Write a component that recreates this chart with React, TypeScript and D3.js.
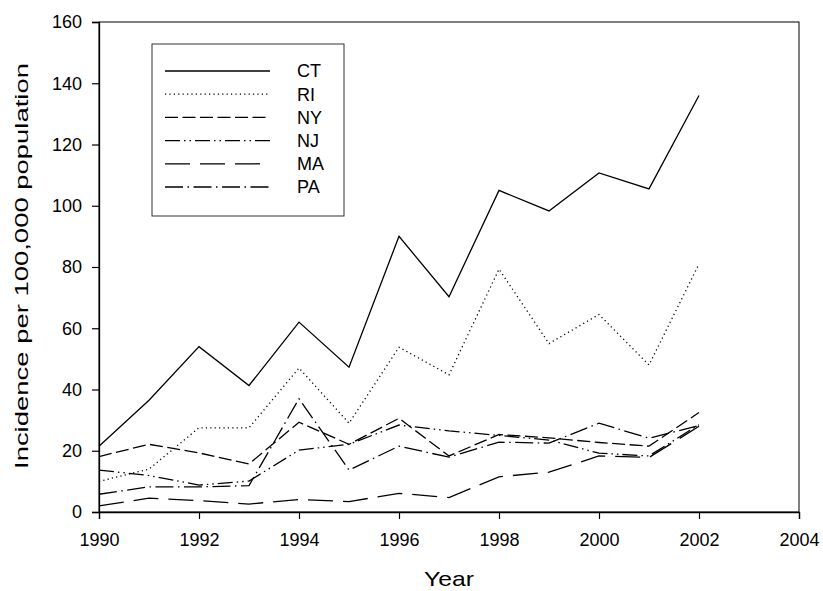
import { useEffect, useRef } from "react";
import * as d3 from "d3";

// incidence per 100,000
const years = [1990, 1991, 1992, 1993, 1994, 1995, 1996, 1997, 1998, 1999, 2000, 2001, 2002];
const ct = [21.5, 36.5, 54, 41.3, 62, 47.3, 90, 70.3, 105, 98.3, 110.7, 105.5, 136];
const ri = [10, 14, 27.5, 27.5, 47, 29, 53.8, 44.8, 79.3, 55, 64.5, 48, 81];
const ny = [18.1, 22.1, 19.3, 15.7, 29.3, 22.1, 30.6, 18.3, 25.3, 24.2, 22.7, 21.5, 32.5];
const nj = [13.7, 11.9, 8.8, 10.1, 20.2, 22.1, 28.4, 26.5, 25, 23.5, 19.2, 18.3, 28.5];
const ma = [2.0, 4.5, 3.7, 2.6, 4.1, 3.4, 6.1, 4.7, 11.5, 13, 18.3, 17.8, 28];
const pa = [5.8, 8.2, 8.2, 8.6, 37, 13.7, 21.5, 17.9, 22.8, 22.5, 29, 24.1, 28.2];

const seriesNames = ["CT", "RI", "NY", "NJ", "MA", "PA"];
const seriesValues = [ct, ri, ny, nj, ma, pa];
const dashes = ["none", "1.2 3.2", "13 4.5", "15 4 1.5 4 1.5 4", "25 10", "18 4.5 1.5 4.5"];

const xTicks = [1990, 1992, 1994, 1996, 1998, 2000, 2002, 2004];
const yTicks = [0, 20, 40, 60, 80, 100, 120, 140, 160];

const W = 823;
const H = 591;
const M = { top: 22, right: 24, bottom: 79, left: 99 };
const FONT = "Arial, 'Liberation Sans', sans-serif";

export default function App() {
  const svgRef = useRef<SVGSVGElement>(null);

  useEffect(() => {
    const svg = d3.select(svgRef.current);
    svg.selectAll("*").remove();

    const innerW = W - M.left - M.right;
    const innerH = H - M.top - M.bottom;

    const x = d3.scaleLinear().domain([1990, 2004]).range([0, innerW]);
    const y = d3.scaleLinear().domain([0, 160]).range([innerH, 0]);

    const g = svg.append("g").attr("transform", `translate(${M.left},${M.top})`);

    // frame
    g.append("rect")
      .attr("width", innerW)
      .attr("height", innerH)
      .attr("fill", "none")
      .attr("stroke", "#000")
      .attr("stroke-width", 1);

    const xAxis = g
      .append("g")
      .attr("transform", `translate(0,${innerH})`)
      .call(d3.axisBottom(x).tickValues(xTicks).tickFormat(d3.format("d")).tickSize(7).tickPadding(14));
    const yAxis = g
      .append("g")
      .call(d3.axisLeft(y).tickValues(yTicks).tickSize(7).tickPadding(10));

    [xAxis, yAxis].forEach((a) => {
      a.select(".domain").attr("stroke", "#000").attr("stroke-width", 1.3);
      a.selectAll("line").attr("stroke", "#000").attr("stroke-width", 1.2);
      a.selectAll("text").attr("fill", "#000").style("font-family", FONT).style("font-size", "18px");
    });

    const line = d3
      .line<number>()
      .x((_, i) => x(years[i]))
      .y((d) => y(d));

    seriesValues.forEach((vals, i) => {
      g.append("path")
        .datum(vals)
        .attr("d", line)
        .attr("fill", "none")
        .attr("stroke", "#000")
        .attr("stroke-width", 1.3)
        .attr("stroke-dasharray", dashes[i]);
    });

    // legend
    const lg = svg.append("g");
    lg.append("rect")
      .attr("x", 152)
      .attr("y", 44)
      .attr("width", 192)
      .attr("height", 172)
      .attr("fill", "#fff")
      .attr("stroke", "#333")
      .attr("stroke-width", 1);
    seriesNames.forEach((name, i) => {
      const ly = 71 + i * 23.2;
      lg.append("line")
        .attr("x1", 165)
        .attr("x2", 270)
        .attr("y1", ly)
        .attr("y2", ly)
        .attr("stroke", "#000")
        .attr("stroke-width", 1.3)
        .attr("stroke-dasharray", dashes[i]);
      lg.append("text")
        .attr("x", 297)
        .attr("y", ly)
        .attr("dy", "0.36em")
        .style("font-family", FONT)
        .style("font-size", "18px")
        .text(name);
    });

    // axis titles
    svg.append("text")
      .attr("x", M.left + x(1997))
      .attr("y", 586)
      .attr("text-anchor", "middle")
      .attr("textLength", 50)
      .attr("lengthAdjust", "spacingAndGlyphs")
      .style("font-family", FONT)
      .style("font-size", "21px")
      .text("Year");
    svg.append("text")
      .attr("transform", `translate(28,266) rotate(-90)`)
      .attr("text-anchor", "middle")
      .attr("textLength", 406)
      .attr("lengthAdjust", "spacingAndGlyphs")
      .style("font-family", FONT)
      .style("font-size", "18px")
      .text("Incidence per 100,000 population");
  }, []);

  return (
    <svg
      ref={svgRef}
      width={W}
      height={H}
      style={{ position: "absolute", left: 0, top: 0, background: "#fff" }}
    />
  );
}
